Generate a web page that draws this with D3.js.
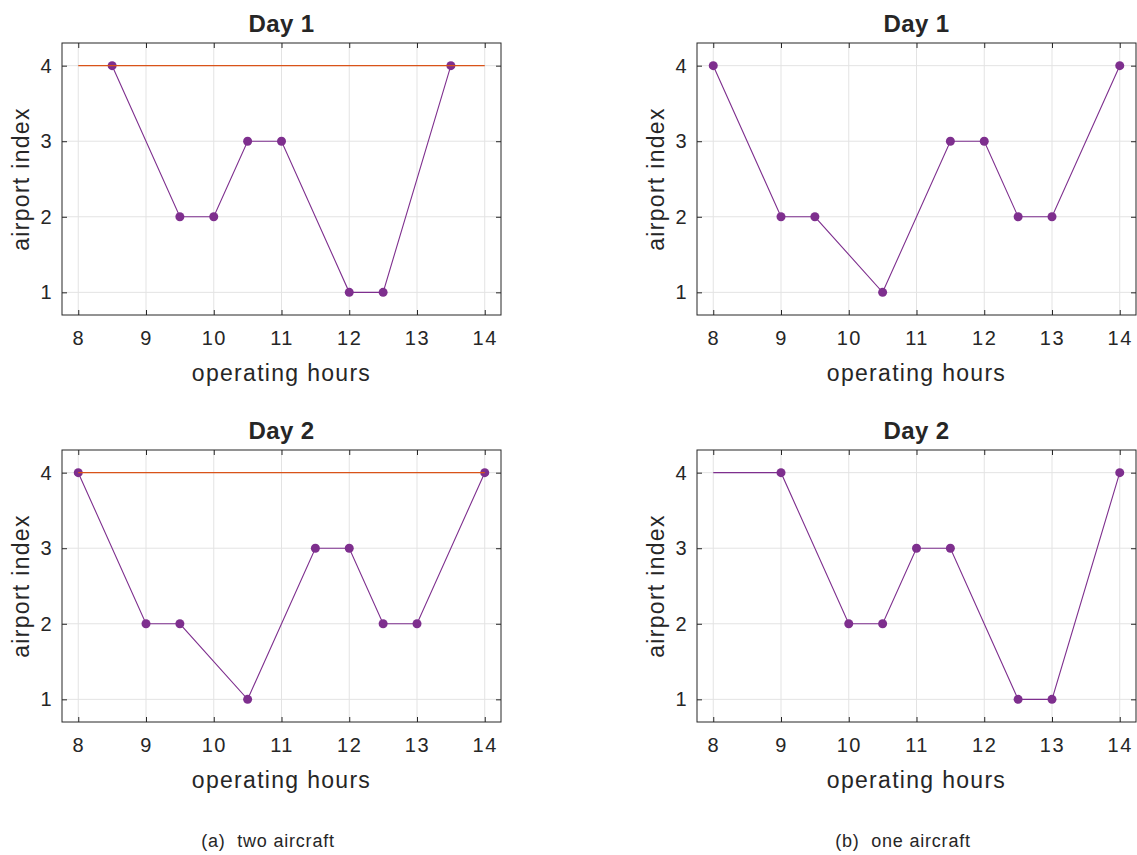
<!DOCTYPE html>
<html lang="en">
<head>
<meta charset="UTF-8">
<title>Airport index over operating hours</title>
<script src="https://d3js.org/d3.v7.min.js"></script>
<style>
  body, html { margin: 0; background: #fff; }
  text { font-family: "Liberation Sans", Arial, Helvetica, sans-serif; fill: #262626; }
</style>
</head>
<body>
<div id="chart"></div>
<script>
// tick values
var xTicks = [8, 9, 10, 11, 12, 13, 14];
var yTicks = [1, 2, 3, 4];

// (a) two aircraft, day 1
var twoDay1HoursA = [8, 14];
var twoDay1AirportA = [4, 4];
var twoDay1HoursB = [8.5, 9.5, 10, 10.5, 11, 12, 12.5, 13.5];
var twoDay1AirportB = [4, 2, 2, 3, 3, 1, 1, 4];

// (a) two aircraft, day 2
var twoDay2HoursA = [8, 14];
var twoDay2AirportA = [4, 4];
var twoDay2HoursB = [8, 9, 9.5, 10.5, 11.5, 12, 12.5, 13, 14];
var twoDay2AirportB = [4, 2, 2, 1, 3, 3, 2, 2, 4];

// (b) one aircraft, day 1
var oneDay1Hours = [8, 9, 9.5, 10.5, 11.5, 12, 12.5, 13, 14];
var oneDay1Airport = [4, 2, 2, 1, 3, 3, 2, 2, 4];

// (b) one aircraft, day 2 (starts at 8 without a stop marker)
var oneDay2Hours = [8, 9, 10, 10.5, 11, 11.5, 12.5, 13, 14];
var oneDay2Airport = [4, 4, 2, 2, 3, 3, 1, 1, 4];
var oneDay2Markers = [false, true, true, true, true, true, true, true, true];

var purple = "#7E2F8E", orange = "#D95319";

var svg = d3.select("#chart").append("svg")
    .attr("width", 1137).attr("height", 855);

var w = 439, h = 272;
var x = d3.scaleLinear().domain([7.76, 14.24]).range([0, w]);
var y = d3.scaleLinear().domain([0.7, 4.3]).range([h, 0]);

function zip(xs, ys, marks) {
  return xs.map(function(v, i) {
    return {x: v, y: ys[i], m: marks ? marks[i] : true};
  });
}

function panel(left, top, title, purpleData, orangeData) {
  var g = svg.append("g").attr("transform", "translate(" + left + "," + top + ")");

  // grid
  g.selectAll(".gx").data(xTicks).enter().append("line")
    .attr("x1", d => x(d)).attr("x2", d => x(d))
    .attr("y1", 0).attr("y2", h)
    .attr("stroke", "#e3e3e3").attr("stroke-width", 1);
  g.selectAll(".gy").data(yTicks).enter().append("line")
    .attr("y1", d => y(d)).attr("y2", d => y(d))
    .attr("x1", 0).attr("x2", w)
    .attr("stroke", "#e3e3e3").attr("stroke-width", 1);

  var line = d3.line().x(d => x(d.x)).y(d => y(d.y));

  g.append("path").datum(purpleData)
    .attr("fill", "none").attr("stroke", purple).attr("stroke-width", 1.1)
    .attr("d", line);
  g.selectAll(".dot").data(purpleData.filter(d => d.m)).enter().append("circle")
    .attr("cx", d => x(d.x)).attr("cy", d => y(d.y)).attr("r", 4.5)
    .attr("fill", purple);

  if (orangeData) {
    g.append("path").datum(orangeData)
      .attr("fill", "none").attr("stroke", orange).attr("stroke-width", 1.3)
      .attr("d", line);
  }

  // inward ticks on all four sides
  var fmt = d3.format("d");
  var bottomAx = g.append("g").attr("transform", "translate(0," + h + ")")
    .call(d3.axisBottom(x).tickValues(xTicks).tickFormat(fmt).tickSizeInner(-5).tickSizeOuter(0).tickPadding(16));
  var topAx = g.append("g")
    .call(d3.axisTop(x).tickValues(xTicks).tickSizeInner(-5).tickSizeOuter(0).tickFormat(""));
  var leftAx = g.append("g")
    .call(d3.axisLeft(y).tickValues(yTicks).tickFormat(fmt).tickSizeInner(-5).tickSizeOuter(0).tickPadding(9));
  var rightAx = g.append("g").attr("transform", "translate(" + w + ",0)")
    .call(d3.axisRight(y).tickValues(yTicks).tickSizeInner(-5).tickSizeOuter(0).tickFormat(""));
  [bottomAx, topAx, leftAx, rightAx].forEach(function(a) {
    a.select(".domain").remove();
    a.selectAll(".tick line").attr("stroke", "#262626");
    a.selectAll("text").attr("font-size", 20).attr("font-family", null)
      .style("letter-spacing", "1.5px").style("fill", "#262626");
  });

  // box
  g.append("rect").attr("width", w).attr("height", h)
    .attr("fill", "none").attr("stroke", "#262626").attr("stroke-width", 1);

  g.append("text").attr("x", w / 2).attr("y", -11)
    .attr("text-anchor", "middle").attr("font-size", 24).attr("font-weight", "bold")
    .style("letter-spacing", "0.4px")
    .text(title);
  g.append("text").attr("x", w / 2).attr("y", h + 66)
    .attr("text-anchor", "middle").attr("font-size", 23)
    .style("letter-spacing", "1.3px")
    .text("operating hours");
  g.append("text")
    .attr("transform", "translate(" + (-33) + "," + (h / 2) + ") rotate(-90)")
    .attr("text-anchor", "middle").attr("font-size", 23)
    .style("letter-spacing", "1.3px")
    .text("airport index");
}

panel(62, 43, "Day 1", zip(twoDay1HoursB, twoDay1AirportB), zip(twoDay1HoursA, twoDay1AirportA));
panel(62, 450, "Day 2", zip(twoDay2HoursB, twoDay2AirportB), zip(twoDay2HoursA, twoDay2AirportA));
panel(697, 43, "Day 1", zip(oneDay1Hours, oneDay1Airport), null);
panel(697, 450, "Day 2", zip(oneDay2Hours, oneDay2Airport, oneDay2Markers), null);

svg.append("text").attr("x", 268).attr("y", 847).attr("text-anchor", "middle")
  .attr("font-size", 18).style("letter-spacing", "0.8px").attr("xml:space", "preserve")
  .text("(a)  two aircraft");
svg.append("text").attr("x", 903).attr("y", 847).attr("text-anchor", "middle")
  .attr("font-size", 18).style("letter-spacing", "0.8px").attr("xml:space", "preserve")
  .text("(b)  one aircraft");
</script>
</body>
</html>
